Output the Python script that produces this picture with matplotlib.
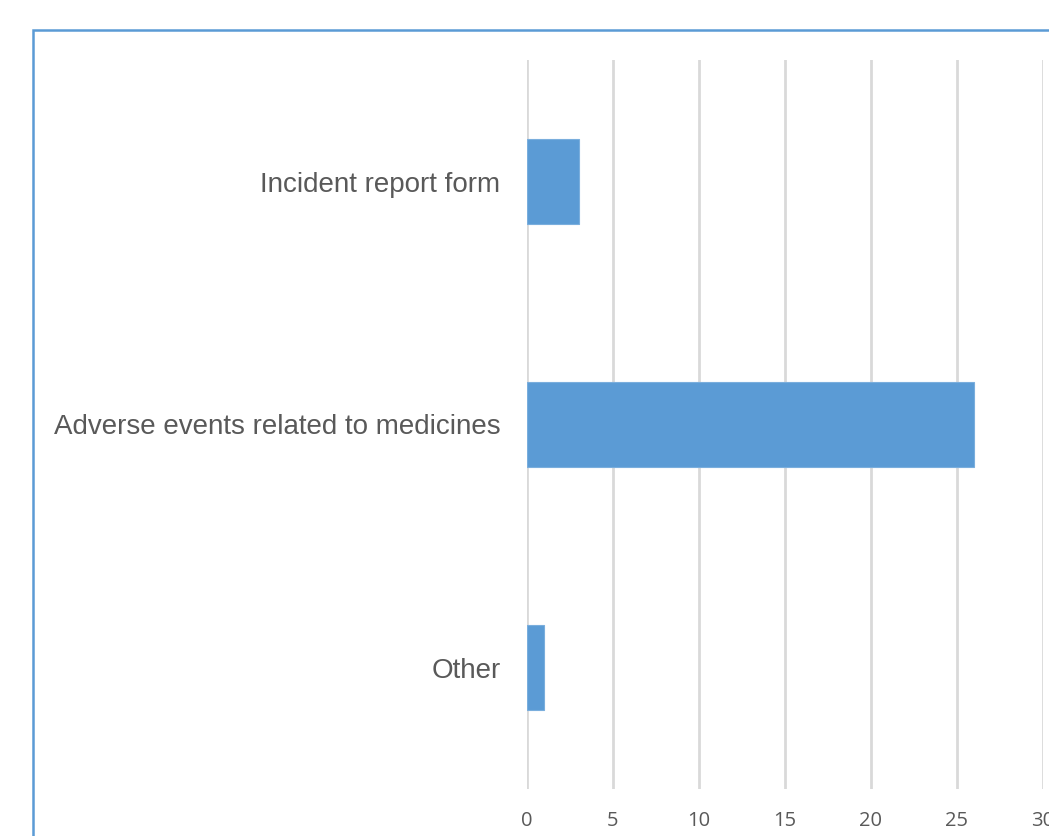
import matplotlib.pyplot as plt
from matplotlib.patches import Rectangle

# report types and how often each was named
categories = ["Incident report form", "Adverse events related to medicines", "Other"]
counts = [3, 26, 1]
xticks = [0, 5, 10, 15, 20, 25, 30]

W, H = 1049, 836
fig = plt.figure(figsize=(W / 100, H / 100), dpi=100)
ax = fig.add_axes([527 / W, 1 - 789 / H, (1043 - 527) / W, (789 - 60) / H])

ypos = list(range(len(categories)))
ax.barh(ypos, counts, height=0.353, color="#5B9BD5", edgecolor="#7AAEDD",
        linewidth=0.8, zorder=3)

ax.set_xlim(0, 30)
ax.set_ylim(len(categories) - 0.5, -0.5)
ax.set_xticks(xticks)
ax.set_xticklabels([str(t) for t in xticks], fontsize=14.5, color="#595959",
                   family="Open Sans")
ax.set_yticks(ypos)
ax.set_yticklabels(categories, fontsize=20, color="#595959",
                   family="Liberation Sans")
ax.tick_params(axis="both", length=0)
ax.tick_params(axis="x", pad=16)
ax.tick_params(axis="y", pad=19)
ax.grid(axis="x", color="#D9D9D9", linewidth=2, zorder=0)
for s in ax.spines.values():
    s.set_visible(False)

# outer frame, running off the right and bottom edges
fig.patches.append(Rectangle((33 / W, -0.05), 1.1, 1 - 30 / H + 0.05,
                             transform=fig.transFigure, fill=False,
                             edgecolor="#5B9BD5", linewidth=1.8, zorder=10))

fig.savefig("out.png", dpi=100)
